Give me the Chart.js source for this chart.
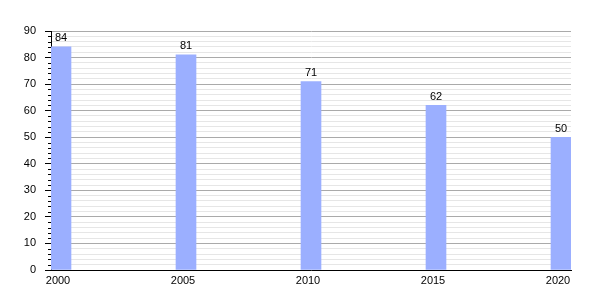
<!DOCTYPE html>
<html>
<head>
  <meta http-equiv="content-type" content="text/html; charset=utf-8"/>
  <script src="https://cdn.jsdelivr.net/npm/chart.js@4/dist/chart.umd.min.js"></script>
  <style>
    html, body { margin: 0; padding: 0; background: #fff; }
    #wrap { width: 600px; height: 300px; }
  </style>
</head>
<body>
<div id="wrap"><canvas id="chart" width="600" height="300"></canvas></div>

<script>
    // data
    const years = [2000, 2005, 2010, 2015, 2020];
    const values = [84, 81, 71, 62, 50];
    const yTicks = [0, 10, 20, 30, 40, 50, 60, 70, 80, 90];

    const FONT = { family: '"Liberation Sans", Arial, sans-serif', size: 11 };

    // minor tick marks on the y axis + value labels over the bars
    const extras = {
        id: 'extras',
        afterDraw(chart) {
            const ctx = chart.ctx;
            const y = chart.scales.y;
            const x = chart.scales.x;
            ctx.save();
            ctx.strokeStyle = '#000';
            ctx.lineWidth = 1;
            for (let v = 0; v <= 90; v += 2) {
                if (v % 10 === 0) continue;
                const py = Math.round(y.getPixelForValue(v)) + 0.5;
                ctx.beginPath();
                ctx.moveTo(y.right - 3, py);
                ctx.lineTo(y.right, py);
                ctx.stroke();
            }
            ctx.fillStyle = '#000';
            ctx.font = FONT.size + 'px ' + FONT.family;
            ctx.textAlign = 'center';
            ctx.textBaseline = 'bottom';
            years.forEach((yr, i) => {
                ctx.fillText(String(values[i]), x.getPixelForValue(yr), y.getPixelForValue(values[i]) - 3);
            });
            ctx.restore();
        }
    };

    new Chart(document.getElementById('chart'), {
        type: 'bar',
        data: {
            datasets: [{
                data: years.map((yr, i) => ({ x: yr, y: values[i] })),
                backgroundColor: '#9bafff',
                borderWidth: 0,
                barThickness: 20
            }]
        },
        options: {
            responsive: false,
            animation: false,
            events: [],
            layout: { padding: { top: 31, right: 29, left: 0, bottom: 0 } },
            plugins: { legend: { display: false }, tooltip: { enabled: false } },
            scales: {
                x: {
                    type: 'linear',
                    offset: false,
                    min: 1999.6,
                    max: 2020.4,
                    afterBuildTicks(scale) {
                        scale.ticks = years.map(v => ({ value: v }));
                    },
                    afterFit(scale) { scale.height = 30; },
                    grid: { display: false, drawTicks: false },
                    border: { display: true, color: '#000', width: 1 },
                    ticks: {
                        color: '#000',
                        font: FONT,
                        padding: 4,
                        labelOffset: -3,
                        maxRotation: 0,
                        autoSkip: false,
                        callback: v => String(v)
                    }
                },
                y: {
                    min: 0,
                    max: 90,
                    afterBuildTicks(scale) {
                        const t = [];
                        for (let v = 0; v <= 90; v += 2) t.push({ value: v });
                        scale.ticks = t;
                    },
                    afterFit(scale) { scale.width = 51; },
                    grid: {
                        color: c => (c.tick && c.tick.value % 10 === 0) ? '#aaaaaa' : '#e6e6e6',
                        tickColor: c => (c.tick && c.tick.value % 10 === 0) ? '#000' : 'rgba(0,0,0,0)',
                        tickLength: 6,
                        lineWidth: 1
                    },
                    border: { display: true, color: '#000', width: 1 },
                    ticks: {
                        color: '#000',
                        font: FONT,
                        padding: 9,
                        autoSkip: false,
                        callback: v => (v % 10 === 0 ? String(v) : '')
                    }
                }
            }
        },
        plugins: [extras]
    });
</script>
</body>
</html>
